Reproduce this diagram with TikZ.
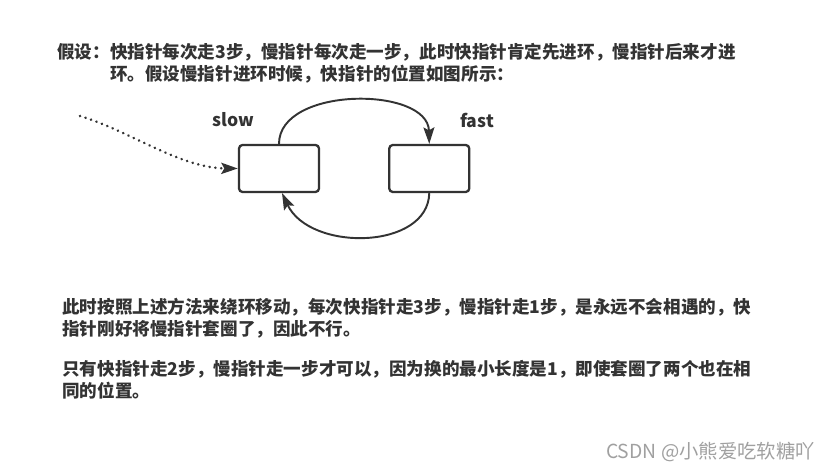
\documentclass[tikz,border=0pt]{standalone}
\usepackage{fontspec}
\setmainfont{Noto Sans CJK SC}
\usetikzlibrary{arrows.meta, positioning}
\definecolor{ink}{RGB}{51,51,51}
\definecolor{mark}{RGB}{160,160,160}

\begin{document}
\begin{tikzpicture}[
    x=0.02cm, y=-0.02cm,
    txt/.style={anchor=north west, inner sep=0pt, align=left, font=\fontsize{10}{12.4}\selectfont\bfseries, text=ink},
    lbl/.style={inner sep=0pt, font=\fontsize{10}{12}\selectfont\bfseries, text=ink},
    listbox/.style={rectangle, rounded corners=2pt, draw=ink, line width=1.3pt, minimum width=1.6cm, minimum height=0.94cm},
    arr/.style={-{Stealth[length=3.3mm, width=2.2mm, inset=0.6mm]}, line width=1.1pt, ink},
    dots/.style={arr, line width=1.6pt, dash pattern=on 0.01pt off 3.3pt, line cap=round},
]
\useasboundingbox (0,0) rectangle (831,472);

\node[txt] (intro) at (57,43) {\begin{tabular}{@{}l@{}l@{}}假设：&快指针每次走3步，慢指针每次走一步，此时快指针肯定先进环，慢指针后来才进\\&环。假设慢指针进环时候，快指针的位置如图所示：\end{tabular}};

\node[listbox] (slowbox) at (279,168.5) {};
\node[listbox, right=1.36cm of slowbox] (fastbox) {};
\node[lbl] (slowlbl) at (233,120) {slow};
\node[lbl] (fastlbl) at (477,120) {fast};
\coordinate (entry) at (80,116);

\draw[dots] (entry) .. controls (130,131) and (180,168) .. (slowbox.west);
\draw[arr] (slowbox.north) .. controls (279,86) and (428,86) .. (fastbox.north);
\draw[arr] (fastbox.south) .. controls (428,250) and (310,252) .. ([xshift=0.06cm]slowbox.south);

\node[txt] (verdict) at (62,298) {此时按照上述方法来绕环移动，每次快指针走3步，慢指针走1步，是永远不会相遇的，快\\指针刚好将慢指针套圈了，因此不行。};
\node[txt] (remedy) at (62,360) {只有快指针走2步，慢指针走一步才可以，因为换的最小长度是1，即使套圈了两个也在相\\同的位置。};

\node[anchor=east, inner sep=0pt, font=\fontsize{11}{13}\selectfont, text=mark] (credit) at (815,452) {CSDN @小熊爱吃软糖吖};

\end{tikzpicture}
\end{document}
